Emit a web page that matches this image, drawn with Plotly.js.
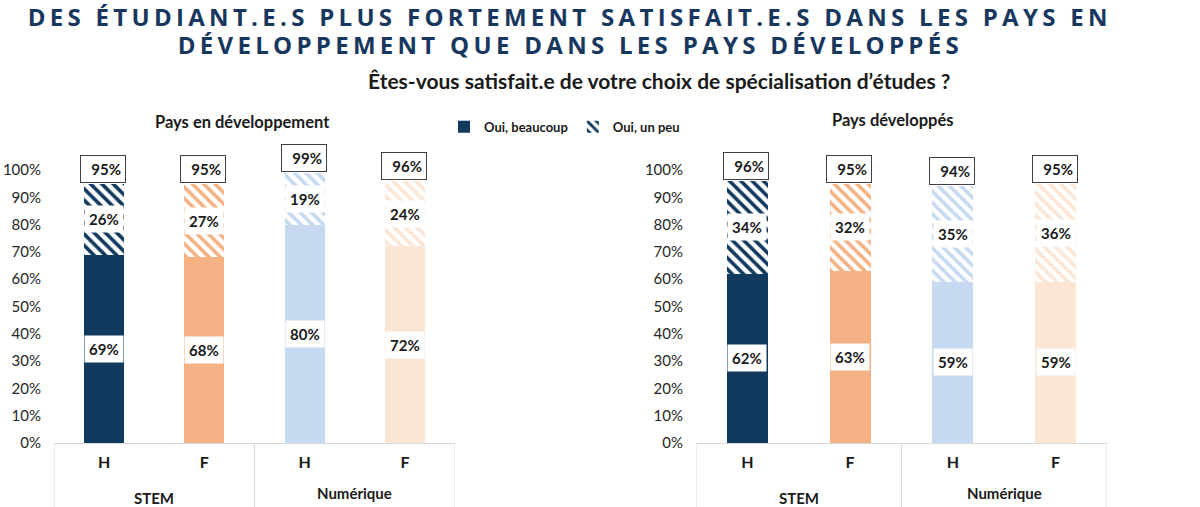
<!DOCTYPE html>
<html>
<head>
<meta charset="utf-8">
<script src="https://cdn.plot.ly/plotly-3.0.1.min.js"></script>
<style>
  html, body { margin: 0; padding: 0; background: #fff; }
  #chart { width: 1200px; height: 507px; }
</style>
</head>
<body>
<div id="chart"></div>
<script>
// Survey data: share of students satisfied with their field of study
const groups = ['STEM', 'STEM', 'Numérique', 'Numérique'];
const sexes = ['H', 'F', 'H', 'F'];

const devBeaucoup = [69, 68, 80, 72];   // Pays en développement – "Oui, beaucoup"
const devUnPeu = [26, 27, 19, 24];      // Pays en développement – "Oui, un peu"
const devTotal = [95, 95, 99, 96];

const dvdBeaucoup = [62, 63, 59, 59];   // Pays développés – "Oui, beaucoup"
const dvdUnPeu = [34, 32, 35, 36];      // Pays développés – "Oui, un peu"
const dvdTotal = [96, 95, 94, 95];

const seriesNames = ['Oui, beaucoup', 'Oui, un peu'];
const panelTitles = ['Pays en développement', 'Pays développés'];
const titleLines = [
  'DES ÉTUDIANT.E.S PLUS FORTEMENT SATISFAIT.E.S DANS LES PAYS EN',
  'DÉVELOPPEMENT QUE DANS LES PAYS DÉVELOPPÉS'
];
const subtitle = 'Êtes-vous satisfait.e de votre choix de spécialisation d’études ?';

const barColors = ['#113a5e', '#f4b183', '#c6d9f0', '#fbe5d5'];
const FONT = 'Lato, "Open Sans", sans-serif';
const TEXT = '#1a1a1a';

// One unique category per bar (group + sex); the axis shows only the sex
const xKeys = groups.map((g, i) => g + ' ' + sexes[i]);
// distinct groups with the category span they cover
const groupSpans = [];
groups.forEach((g, i) => {
  const last = groupSpans[groupSpans.length - 1];
  if (last && last.name === g) last.end = i; else groupSpans.push({ name: g, start: i, end: i });
});

function solidTrace(vals, xa, ya, showLegend) {
  return {
    type: 'bar', x: xKeys, y: vals, xaxis: xa, yaxis: ya,
    name: seriesNames[0], showlegend: showLegend,
    marker: { color: barColors, line: { width: 0 } },
    hoverinfo: 'skip'
  };
}
function hatchTrace(vals, xa, ya, showLegend) {
  return {
    type: 'bar', x: xKeys, y: vals, xaxis: xa, yaxis: ya,
    name: seriesNames[1], showlegend: showLegend,
    marker: {
      color: '#ffffff',
      line: { width: 0 },
      pattern: { shape: '\\', fgcolor: barColors, bgcolor: '#ffffff', size: 8, solidity: 0.45, fillmode: 'replace' }
    },
    hoverinfo: 'skip'
  };
}

const data = [
  solidTrace(devBeaucoup, 'x', 'y', true),
  hatchTrace(devUnPeu, 'x', 'y', true),
  solidTrace(dvdBeaucoup, 'x2', 'y2', false),
  hatchTrace(dvdUnPeu, 'x2', 'y2', false)
];

const annotations = [];
// Main title (two lines) and question
titleLines.forEach((t, i) => {
  annotations.push({
    xref: 'paper', yref: 'paper', x: 0.475, y: i === 0 ? 0.968 : 0.912,
    xanchor: 'center', yanchor: 'middle', showarrow: false,
    text: '<b>' + t + '</b>',
    font: { family: '"Open Sans", sans-serif', size: 24, color: '#17375e' }
  });
});
annotations.push({
  xref: 'paper', yref: 'paper', x: 0.549, y: 0.842,
  xanchor: 'center', yanchor: 'middle', showarrow: false,
  text: '<b>' + subtitle + '</b>',
  font: { family: FONT, size: 21, color: TEXT }
});
annotations.push({
  xref: 'paper', yref: 'paper', x: 0.2017, y: 0.759,
  xanchor: 'center', yanchor: 'middle', showarrow: false,
  text: '<b>' + panelTitles[0] + '</b>', font: { family: FONT, size: 16.5, color: TEXT }
});
annotations.push({
  xref: 'paper', yref: 'paper', x: 0.744, y: 0.763,
  xanchor: 'center', yanchor: 'middle', showarrow: false,
  text: '<b>' + panelTitles[1] + '</b>', font: { family: FONT, size: 16.5, color: TEXT }
});

// Value labels: white boxes inside segments, framed box for totals
function valueLabels(beaucoup, unPeu, total, xa, ya) {
  for (let i = 0; i < beaucoup.length; i++) {
    annotations.push({
      xref: xa, yref: ya, x: i, y: beaucoup[i] / 2, showarrow: false,
      text: '<b>' + beaucoup[i] + '%</b>', bgcolor: '#ffffff', borderpad: 4,
      font: { family: FONT, size: 15, color: TEXT }
    });
    annotations.push({
      xref: xa, yref: ya, x: i, y: beaucoup[i] + unPeu[i] / 2, showarrow: false,
      text: '<b>' + unPeu[i] + '%</b>', bgcolor: '#ffffff', borderpad: 4,
      font: { family: FONT, size: 15, color: TEXT }
    });
    annotations.push({
      xref: xa, yref: ya, x: i, y: total[i], yanchor: 'bottom', yshift: 1, xshift: -1, showarrow: false,
      text: '<b>' + total[i] + '%</b>', bgcolor: '#ffffff',
      bordercolor: '#404040', borderwidth: 1, borderpad: 4, width: 36, align: 'right',
      font: { family: FONT, size: 15, color: TEXT }
    });
  }
}
valueLabels(devBeaucoup, devUnPeu, devTotal, 'x', 'y');
valueLabels(dvdBeaucoup, dvdUnPeu, dvdTotal, 'x2', 'y2');

// Group labels under the sex labels, and vertical separators
const shapes = [];
[['x', 'y'], ['x2', 'y2']].forEach(([xa]) => {
  groupSpans.forEach((s, k) => {
    annotations.push({
      xref: xa, yref: 'paper', x: (s.start + s.end) / 2, y: k === 0 ? 0.018 : 0.028,
      xanchor: 'center', yanchor: 'middle', showarrow: false,
      text: '<b>' + s.name + '</b>', font: { family: FONT, size: 15, color: TEXT }
    });
    if (k === 0) {
      shapes.push({ type: 'line', xref: xa, yref: 'paper', x0: s.start - 0.5, x1: s.start - 0.5,
        y0: 0.1262, y1: 0, line: { color: '#d9d9d9', width: 1 } });
    }
    shapes.push({ type: 'line', xref: xa, yref: 'paper', x0: s.end + 0.5, x1: s.end + 0.5,
      y0: 0.1262, y1: 0, line: { color: '#d9d9d9', width: 1 } });
  });
});

const xaxisBase = {
  type: 'category', range: [-0.5, 3.5], fixedrange: true,
  tickvals: xKeys, ticktext: sexes,
  showline: true, linecolor: '#d9d9d9', linewidth: 1,
  ticks: '', showgrid: false, zeroline: false, ticklabelstandoff: 5,
  tickfont: { family: FONT, size: 16, color: TEXT, weight: 'bold' }
};
const yaxisBase = {
  range: [0, 100], dtick: 10, ticksuffix: '%', showgrid: false, zeroline: false,
  showline: false, ticks: '', ticklabelstandoff: 12, fixedrange: true,
  domain: [0.1262, 0.6647],
  tickfont: { family: FONT, size: 15, color: '#262626' }
};

const layout = {
  width: 1200, height: 507,
  margin: { l: 0, r: 0, t: 0, b: 0 },
  paper_bgcolor: '#ffffff', plot_bgcolor: '#ffffff',
  barmode: 'stack', bargap: 0.6,
  font: { family: FONT, color: TEXT },
  showlegend: true,
  legend: {
    orientation: 'h', x: 0.37, y: 0.75, xanchor: 'left', yanchor: 'middle',
    traceorder: 'normal', bgcolor: 'rgba(0,0,0,0)',
    font: { family: FONT, size: 13, color: TEXT, weight: 'bold' },
    itemwidth: 30
  },
  xaxis: Object.assign({}, xaxisBase, { domain: [0.045, 0.3792], anchor: 'y' }),
  yaxis: Object.assign({}, yaxisBase, { anchor: 'x' }),
  xaxis2: Object.assign({}, xaxisBase, { domain: [0.58, 0.9225], anchor: 'y2' }),
  yaxis2: Object.assign({}, yaxisBase, { anchor: 'x2' }),
  annotations: annotations,
  shapes: shapes
};

Plotly.newPlot('chart', data, layout, { staticPlot: true }).then(() => {
  // Spaced capitals for the headline
  document.querySelectorAll('.annotation').forEach(g => {
    const idx = g.getAttribute('data-index');
    if (idx === '0' || idx === '1') {
      g.querySelectorAll('text').forEach(t => t.setAttribute('letter-spacing', '4.3px'));
    }
  });
});
</script>
</body>
</html>
